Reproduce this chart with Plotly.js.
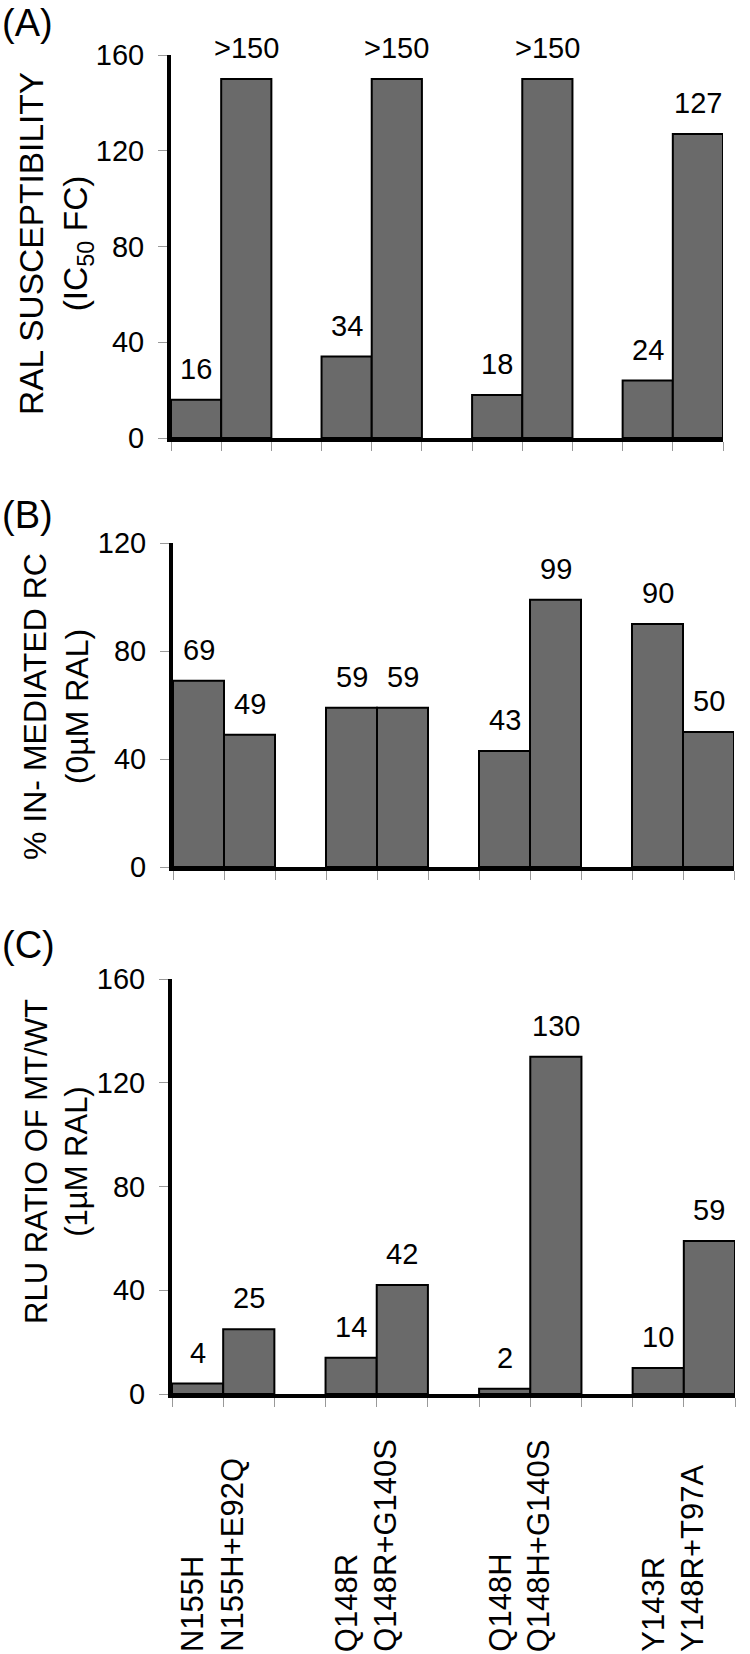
<!DOCTYPE html>
<html><head><meta charset="utf-8">
<script src="https://cdn.plot.ly/plotly-3.0.1.min.js"></script>
<style>html,body{margin:0;padding:0;background:#fff}</style>
</head><body><div id="chart" style="width:750px;height:1654px"></div>
<script>
// ---- data ----
const categories = ["N155H","N155H+E92Q"," ","Q148R","Q148R+G140S","  ","Q148H","Q148H+G140S","   ","Y143R","Y148R+T97A"];
const categoryLabels = ["N155H","N155H+E92Q","","Q148R","Q148R+G140S","","Q148H","Q148H+G140S","","Y143R","Y148R+T97A"];
const valuesA = [16,150,null,34,150,null,18,150,null,24,127];
const labelsA = ["16",">150","","34",">150","","18",">150","","24","127"];
const valuesB = [69,49,null,59,59,null,43,99,null,90,50];
const labelsB = ["69","49","","59","59","","43","99","","90","50"];
const valuesC = [4,25,null,14,42,null,2,130,null,10,59];
const labelsC = ["4","25","","14","42","","2","130","","10","59"];
const ticksA = [0,40,80,120,160];
const ticksB = [0,40,80,120];
const ticksC = [0,40,80,120,160];
const titleA = "RAL SUSCEPTIBILITY<br>(IC<sub>50</sub> FC)";
const titleB = "% IN- MEDIATED RC<br>(0µM RAL)";
const titleC = "RLU RATIO OF MT/WT<br>(1µM RAL)";
const panelNames = ["(A)","(B)","(C)"];

// ---- styling ----
const W = 750, H = 1654;
const FONT = '"Liberation Sans", Arial, Helvetica, sans-serif';
const px = v => v / W;
const py = v => 1 - v / H;

function xax(x0, x1, anchor){
  return {domain:[px(x0), px(x1)], anchor, type:'category', categoryorder:'array', categoryarray: categories,
    range:[-0.5,10.5], showline:true, linecolor:'#000', linewidth:4, ticks:'outside', tickson:'boundaries',
    ticklen:9, tickcolor:'#999', tickwidth:1, showticklabels:false, showgrid:false, zeroline:false, fixedrange:true};
}
function yax(y0, y1, anchor, range, tv){
  return {domain:[py(y1), py(y0)], anchor, range, tickvals: tv, ticktext: tv.map(String),
    showline:true, linecolor:'#000', linewidth:4, ticks:'outside', ticklen:9, tickcolor:'#999', tickwidth:1,
    tickfont:{family:FONT, size:29, color:'#000'}, ticklabelstandoff:8, showgrid:false, zeroline:false, fixedrange:true};
}
function barTrace(vals, xa, ya){
  return {type:'bar', x: categories, y: vals, xaxis: xa, yaxis: ya, hoverinfo:'skip',
    marker:{color:'#6a6a6a', line:{color:'#000', width:2}}};
}

const data = [barTrace(valuesA,'x','y'), barTrace(valuesB,'x2','y2'), barTrace(valuesC,'x3','y3')];

const annotations = [];
function valueLabels(vals, labels, xr, yr){
  vals.forEach((v,i) => {
    if (v === null) return;
    annotations.push({xref:xr, yref:yr, x: categories[i], y: v, text: labels[i], showarrow:false,
      yanchor:'middle', xanchor:'center', yshift:31, font:{family:FONT, size:29, color:'#000'}});
  });
}
valueLabels(valuesA, labelsA, 'x', 'y');
valueLabels(valuesB, labelsB, 'x2', 'y2');
valueLabels(valuesC, labelsC, 'x3', 'y3');

[[titleA,244,33.5],[titleB,707,32],[titleC,1162,31]].forEach(([t,yc,fs]) => {
  annotations.push({xref:'paper', yref:'paper', x: px(56), y: py(yc), text: t, textangle:-90, showarrow:false,
    xanchor:'center', yanchor:'middle', font:{family:FONT, size:fs, color:'#000'}});
});
[[panelNames[0],0],[panelNames[1],492],[panelNames[2],922]].forEach(([t,yt]) => {
  annotations.push({xref:'paper', yref:'paper', x: 0, y: py(yt), text: t, showarrow:false,
    xanchor:'left', yanchor:'top', font:{family:FONT, size:38, color:'#000'}});
});
categoryLabels.forEach((t,i) => {
  if (!t) return;
  const first = (i % 3 === 0);
  annotations.push({xref:'x3', yref:'paper', x: categories[i], y: 0, text: t, textangle:-90, showarrow:false,
    xanchor:'center', yanchor:'bottom', xshift: first ? -5 : -17, yshift: 0,
    font:{family:FONT, size:31, color:'#000'}});
});

const layout = {
  width: W, height: H, margin:{l:0,r:0,t:0,b:0}, paper_bgcolor:'#fff', plot_bgcolor:'#fff',
  showlegend:false, bargap:0, font:{family:FONT, color:'#000'},
  xaxis: xax(171, 723, 'y'), yaxis: yax(55, 438, 'x', [0,160], ticksA),
  xaxis2: xax(173, 734, 'y2'), yaxis2: yax(543, 867, 'x2', [0,120], ticksB),
  xaxis3: xax(172, 735, 'y3'), yaxis3: yax(979, 1394, 'x3', [0,160], ticksC),
  annotations
};
Plotly.newPlot('chart', data, layout, {staticPlot:true, displayModeBar:false});
</script>
</body></html>
